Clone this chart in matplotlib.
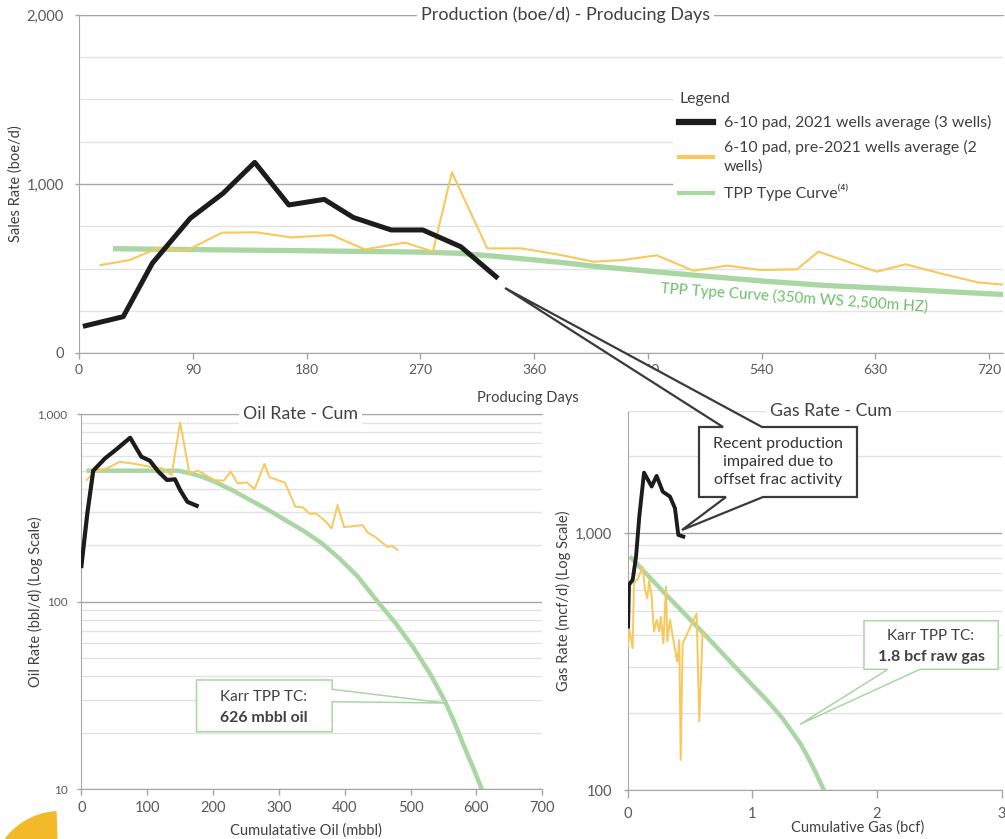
import matplotlib.pyplot as plt
from matplotlib.lines import Line2D
from matplotlib.patches import Polygon, Wedge
from matplotlib.transforms import IdentityTransform
from matplotlib.ticker import FuncFormatter, LogLocator, NullFormatter, MultipleLocator

plt.rcParams['font.family'] = ['Lato', 'DejaVu Sans']

# --- production vs producing days (boe/d) ---
days_2021 = [5, 35, 58, 88, 114, 139, 166, 194, 217, 247, 272, 302, 330]
boe_2021 = [161, 215, 531, 797, 945, 1128, 876, 909, 802, 728, 728, 629, 451]

days_pre = [17, 40, 62, 85, 113, 140, 168, 200, 226, 258, 280, 295, 323, 350, 381,
            407, 430, 457, 486, 513, 539, 568, 585, 631, 654, 682, 711, 732]
boe_pre = [520, 550, 619, 605, 712, 714, 684, 698, 613, 653, 600, 1069, 619, 619, 580,
           540, 550, 578, 487, 517, 491, 495, 600, 481, 525, 470, 418, 404]

days_tc = [29, 90, 180, 270, 300, 330, 381, 408, 457, 486, 542, 590, 645, 690, 732]
boe_tc = [617, 612, 605, 597, 590, 572, 536, 513, 480, 461, 425, 400, 380, 362, 346]

# --- oil rate vs cumulative oil ---
cum_oil_2021 = [0, 9, 18, 36, 55, 74, 91, 104, 117, 130, 142, 150, 161, 175]
oil_2021 = [155, 296, 500, 582, 658, 750, 594, 565, 494, 446, 450, 394, 341, 325]

cum_oil_pre = [8, 20, 39, 58, 82, 104, 123, 137, 150, 164, 177, 202, 216, 227, 237, 251,
               263, 278, 286, 309, 325, 336, 347, 356, 370, 380, 389, 399, 427, 435,
               446, 465, 472, 480]
oil_pre = [446, 494, 515, 558, 543, 525, 515, 474, 906, 484, 500, 446, 442, 494, 428, 433,
           399, 543, 461, 432, 321, 319, 294, 296, 270, 246, 328, 250, 256, 233,
           222, 196, 198, 189]

cum_oil_tc = [11, 147, 165, 185, 202, 230, 256, 283, 310, 338, 365, 392, 419, 450, 478,
              504, 530, 552, 567, 580, 595, 608]
oil_tc = [500, 500, 485, 462, 437, 392, 349, 310, 272, 238, 205, 170, 137, 100, 76,
          57, 41, 29.5, 22.5, 17.3, 13, 10]

# --- gas rate vs cumulative gas ---
cum_gas_2021 = [0.003, 0.01, 0.04, 0.067, 0.093, 0.131, 0.192, 0.232, 0.281, 0.339,
                0.379, 0.406, 0.446]
gas_2021 = [433, 630, 658, 811, 1161, 1721, 1520, 1672, 1452, 1389, 1251, 985, 970]

cum_gas_pre = [0.0, 0.013, 0.04, 0.05, 0.085, 0.12, 0.139, 0.157, 0.173, 0.192, 0.211,
               0.232, 0.253, 0.265, 0.286, 0.307, 0.318, 0.339, 0.387, 0.398, 0.414,
               0.425, 0.441, 0.553, 0.574, 0.601, 0.62]
gas_pre = [357, 420, 357, 638, 668, 741, 601, 558, 658, 566, 414, 460, 414, 473, 372,
           620, 379, 460, 336, 316, 384, 131, 372, 487, 185, 414, 396]

cum_gas_tc = [0.03, 0.31, 0.62, 0.85, 1.0, 1.115, 1.2, 1.25, 1.32, 1.38, 1.44, 1.49,
              1.53, 1.574]
gas_tc = [800, 575, 402, 306, 256, 224, 201, 188, 168, 153, 136, 122, 111, 100]

legend_labels = ['6-10 pad, 2021 wells average (3 wells)',
                 '6-10 pad, pre-2021 wells average (2\nwells)',
                 'TPP Type Curve\u207d\u2074\u207e']

W, H = 1005, 839
TXT = '#404040'
TICK = '#595959'
MAJOR = '#a6a6a6'
MINOR = '#e2e2e2'
BLACK = '#1c1c1c'
YELLOW = '#f8c85c'
GREEN = '#a9d6a3'
GREEN_TXT = '#6cbf6a'

thousands = FuncFormatter(lambda v, p: f'{v:,.0f}')


def px_axes(fig, left, top, right, bottom):
    return fig.add_axes([left / W, 1 - bottom / H, (right - left) / W, (bottom - top) / H])


def fig_pts(points):
    return [(x / W, 1 - y / H) for x, y in points]


def style(ax, top_color=MAJOR):
    ax.set_axisbelow(True)
    ax.spines['right'].set_visible(False)
    for s in ['left', 'bottom']:
        ax.spines[s].set_color(MAJOR)
    ax.spines['top'].set_color(top_color)
    ax.grid(axis='y', which='major', color=MAJOR, lw=1)
    ax.grid(axis='y', which='minor', color=MINOR, lw=1)
    ax.tick_params(which='major', colors=MAJOR, labelcolor=TICK, length=4, width=1)
    ax.tick_params(which='minor', length=0)


fig = plt.figure(figsize=(W / 100, H / 100), dpi=100)

# top panel
ax = px_axes(fig, 79, 15, 1003, 353)
ax.plot(days_tc, boe_tc, color=GREEN, lw=3.8, zorder=2)
ax.plot(days_pre, boe_pre, color=YELLOW, lw=1.5, zorder=3)
ax.plot(days_2021, boe_2021, color=BLACK, lw=3.6, zorder=4)
ax.set_xlim(0, 731)
ax.set_ylim(0, 2000)
ax.set_xticks(range(0, 721, 90))
ax.set_yticks([0, 1000, 2000])
ax.yaxis.set_major_formatter(thousands)
ax.yaxis.set_minor_locator(MultipleLocator(250))
style(ax)
ax.tick_params(axis='x', labelsize=10, pad=4)
ax.tick_params(axis='y', labelsize=10.5, pad=8, length=3)
ax.set_xlabel('Producing Days', fontsize=10.5, color=TXT)
ax.xaxis.set_label_coords(0.486, -0.112)
ax.set_ylabel('Sales Rate (boe/d)', fontsize=10.5, color=TXT)
ax.yaxis.set_label_coords(-0.061, 0.5)
ax.text(385, 2000, 'Production (boe/d) - Producing Days', ha='center', va='center',
        fontsize=13, color=TXT, bbox=dict(fc='white', ec='none', pad=3), zorder=6,
        clip_on=False)
ax.text(566, 325, 'TPP Type Curve (350m WS 2,500m HZ)', ha='center', va='center',
        rotation=-4, rotation_mode='anchor', fontsize=11, color=GREEN_TXT)

handles = [Line2D([], [], color=BLACK, lw=4.5), Line2D([], [], color=YELLOW, lw=3),
           Line2D([], [], color=GREEN, lw=3)]
leg = ax.legend(handles, legend_labels, loc='upper left',
                bbox_to_anchor=(0.643, 0.0, 0.357, 0.792), mode='expand',
                borderaxespad=0, title='Legend', alignment='left', fontsize=11.4,
                title_fontsize=11.4, frameon=True, facecolor='white', edgecolor='none',
                framealpha=1, fancybox=False, borderpad=0.4, handlelength=2.1,
                handletextpad=0.7, labelspacing=0.6)
leg.set_zorder(5)
for t in leg.get_texts():
    t.set_color(TXT)
    t.set_linespacing(1.45)
leg.get_title().set_color(TXT)

# oil panel
ax2 = px_axes(fig, 81.4, 414.3, 542.3, 789)
ax2.set_yscale('log')
ax2.plot(cum_oil_tc, oil_tc, color=GREEN, lw=3.2, zorder=2)
ax2.plot(cum_oil_pre, oil_pre, color=YELLOW, lw=1.4, zorder=3)
ax2.plot(cum_oil_2021, oil_2021, color=BLACK, lw=3.0, zorder=4)
ax2.set_xlim(0, 700)
ax2.set_ylim(10, 1000)
ax2.set_xticks(range(0, 701, 100))
ax2.set_yticks([10, 100, 1000])
ax2.yaxis.set_major_formatter(thousands)
ax2.yaxis.set_minor_locator(LogLocator(base=10, subs=range(2, 10)))
ax2.yaxis.set_minor_formatter(NullFormatter())
style(ax2)
ax2.tick_params(axis='x', labelsize=10.5, pad=5)
ax2.tick_params(axis='y', labelsize=8.5, pad=7, length=3)
ax2.set_xlabel('Cumulatative Oil (mbbl)', fontsize=10.5, color=TXT)
ax2.xaxis.set_label_coords(0.487, -0.093)
ax2.set_ylabel('Oil Rate (bbl/d) (Log Scale)', fontsize=10.5, color=TXT)
ax2.yaxis.set_label_coords(-0.083, 0.5)
ax2.text(333, 1000, 'Oil Rate - Cum', ha='center', va='center', fontsize=12.8,
         color=TXT, bbox=dict(fc='white', ec='none', pad=3), zorder=6, clip_on=False)

# gas panel
ax3 = px_axes(fig, 627.7, 410.7, 1001.7, 790)
ax3.set_yscale('log')
ax3.plot(cum_gas_tc, gas_tc, color=GREEN, lw=3.2, zorder=2)
ax3.plot(cum_gas_pre, gas_pre, color=YELLOW, lw=1.4, zorder=3)
ax3.plot(cum_gas_2021, gas_2021, color=BLACK, lw=2.8, zorder=4)
ax3.set_xlim(0, 3)
ax3.set_ylim(100, 3000)
ax3.set_xticks([0, 1, 2, 3])
ax3.set_yticks([100, 1000])
ax3.yaxis.set_major_formatter(thousands)
ax3.yaxis.set_minor_locator(LogLocator(base=10, subs=range(2, 10)))
ax3.yaxis.set_minor_formatter(NullFormatter())
style(ax3, top_color=MINOR)
ax3.tick_params(axis='x', labelsize=10.5, pad=6, length=6)
ax3.tick_params(axis='y', labelsize=10.5, pad=8, length=3)
ax3.set_xlabel('Cumulative Gas (bcf)', fontsize=10.5, color=TXT)
ax3.xaxis.set_label_coords(0.616, -0.080)
ax3.set_ylabel('Gas Rate (mcf/d) (Log Scale)', fontsize=10.5, color=TXT)
ax3.yaxis.set_label_coords(-0.152, 0.5)
ax3.text(1.63, 3000, 'Gas Rate - Cum', ha='center', va='center', fontsize=12.8,
         color=TXT, bbox=dict(fc='white', ec='none', pad=3), zorder=6, clip_on=False)

# callout spanning panels
callout = fig_pts([(699, 427), (723, 427), (505, 288), (762, 427), (857, 427), (857, 497),
                   (763, 497), (682, 530), (726, 497), (699, 497)])
fig.add_artist(Polygon(callout, closed=True, fc='white', ec='#3a3a3a', lw=1.6,
                       transform=fig.transFigure, zorder=5))
fig.text(778 / W, 1 - 462 / H, 'Recent production\nimpaired due to\noffset frac activity',
         ha='center', va='center', fontsize=11.5, color='#333333', linespacing=1.4,
         zorder=6)

# Karr type-curve boxes
oil_box = fig_pts([(196.5, 680), (332.2, 680), (332.2, 689.3), (445, 703), (332.2, 701.7),
                   (332.2, 731.7), (196.5, 731.7)])
fig.add_artist(Polygon(oil_box, closed=True, fc='white', ec=GREEN, lw=1.1,
                       transform=fig.transFigure, zorder=5))
fig.text(264 / W, 1 - 697 / H, 'Karr TPP TC:', ha='center', va='center', fontsize=11,
         color=TXT, zorder=6)
fig.text(264 / W, 1 - 718 / H, '626 mbbl oil', ha='center', va='center', fontsize=11.4,
         color=TXT, fontweight='bold', zorder=6)

gas_box = fig_pts([(864, 620.7), (998.3, 620.7), (998.3, 669.3), (920, 669.3), (800, 724.3),
                   (888, 669.3), (864, 669.3)])
fig.add_artist(Polygon(gas_box, closed=True, fc='white', ec=GREEN, lw=1.1,
                       transform=fig.transFigure, zorder=5))
fig.text(931 / W, 1 - 636 / H, 'Karr TPP TC:', ha='center', va='center', fontsize=11,
         color=TXT, zorder=6)
fig.text(931 / W, 1 - 657 / H, '1.8 bcf raw gas', ha='center', va='center', fontsize=11.5,
         color=TXT, fontweight='bold', zorder=6)

# partial logo in the corner
fig.add_artist(Wedge((60, H - 880), 70, 92, 175, width=30, fc='#f2b928', ec='white', lw=1.5,
                     transform=IdentityTransform(), zorder=5))
fig.add_artist(Wedge((60, H - 880), 38, 100, 178, width=10, fc='#1f6b2c', ec='none',
                     transform=IdentityTransform(), zorder=5))

fig.savefig('out.png', dpi=100)
